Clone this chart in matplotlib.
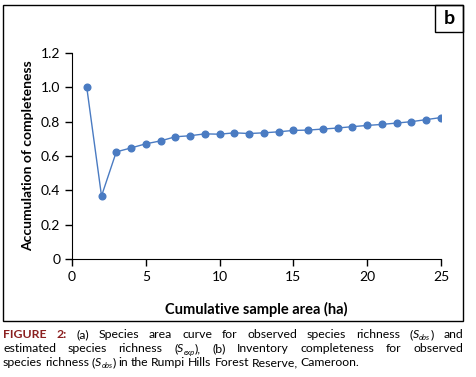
import matplotlib
matplotlib.use("Agg")
import matplotlib.pyplot as plt
from matplotlib.patches import Rectangle

plt.rcParams["font.family"] = ["Lato", "DejaVu Sans"]

# Sample area (ha) and inventory completeness
area = list(range(1, 26))
completeness = [1.000, 0.367, 0.624, 0.647, 0.671, 0.688, 0.712, 0.718, 0.729, 0.727,
                0.735, 0.731, 0.735, 0.741, 0.749, 0.751, 0.757, 0.763, 0.771, 0.778,
                0.784, 0.792, 0.800, 0.812, 0.824]

xticks = [0, 5, 10, 15, 20, 25]
yticks = [0, 0.2, 0.4, 0.6, 0.8, 1.0, 1.2]
yticklabels = ["0", "0.2", "0.4", "0.6", "0.8", "1.0", "1.2"]

blue = "#4a7bc2"
red = "#8b1f1f"

fig = plt.figure(figsize=(4.76, 3.77), dpi=100)
W, H = 476, 377

def fx(px):
    return px / W

def fy(py):
    return 1 - py / H

ax = fig.add_axes([fx(72), fy(259), fx(441) - fx(72), fy(53) - fy(259)])
ax.plot(area, completeness, color=blue, linewidth=1, marker="o", markersize=4.8)
ax.set_xlim(0, 25)
ax.set_ylim(0, 1.2)
ax.set_xticks(xticks)
ax.set_yticks(yticks)
ax.set_yticklabels(yticklabels)
ax.spines["top"].set_visible(False)
ax.spines["right"].set_visible(False)
ax.tick_params(length=5, width=1, labelsize=10, colors="black")
ax.set_xlabel("Cumulative sample area (ha)", fontsize=10.5, fontweight="bold", labelpad=14)
ax.set_ylabel("Accumulation of completeness", fontsize=10, fontweight="bold", labelpad=5)

# outer frame and panel tag
fig.patches.append(Rectangle((fx(3), fy(321)), fx(463) - fx(3), fy(5) - fy(321),
                             transform=fig.transFigure, fill=False, edgecolor="black", linewidth=1))
fig.patches.append(Rectangle((fx(435), fy(32)), fx(463) - fx(435), fy(5) - fy(32),
                             transform=fig.transFigure, fill=False, edgecolor="black", linewidth=1))
fig.text(fx(449), fy(19), "b", fontsize=14, fontweight="bold", ha="center", va="center")

# caption: each word is a list of (text, style) pieces
def plain(w):
    return [(w, "n")]

def sym(sub, tail=")"):
    return [("(", "n"), ("S", "i"), (sub, "s"), (tail, "n")]

line1 = [[("FIGURE", "b")], [("2:", "b")]] + [plain(w) for w in
         "(a) Species area curve for observed species richness".split()] + [sym("obs"), plain("and")]
line2 = [plain(w) for w in "estimated species richness".split()] + [sym("exp", "),")] + \
        [plain(w) for w in "(b) Inventory completeness for observed".split()]
line3 = [plain(w) for w in "species richness".split()] + [sym("obs")] + \
        [plain(w) for w in "in the Rumpi Hills Forest Reserve, Cameroon.".split()]

cap_size = 8.8
renderer = fig.canvas.get_renderer()

def make_word(pieces, ypx):
    texts = []
    for s, st in pieces:
        kw = dict(fontsize=cap_size, va="baseline", color="black")
        y = ypx
        if st == "b":
            kw.update(fontweight="bold", color=red)
        elif st == "i":
            kw.update(style="italic")
        elif st == "s":
            kw.update(style="italic", fontsize=cap_size * 0.62)
            y = ypx + 2.5
        texts.append((fig.text(0, fy(y), s, **kw), y))
    return texts

def place(word, x):
    for t, y in word:
        t.set_x(fx(x))
        x += t.get_window_extent(renderer).width
    return x

def width(word):
    return sum(t.get_window_extent(renderer).width for t, y in word)

def draw_line(words, ypx, justify=True):
    built = [make_word(p, ypx) for p in words]
    widths = [width(w) for w in built]
    gap = (463 - 3 - sum(widths)) / (len(built) - 1) if justify else 2.8
    x = 3
    for w, wd in zip(built, widths):
        place(w, x)
        x += wd + gap

draw_line(line1, 338)
draw_line(line2, 352)
draw_line(line3, 366, justify=False)

fig.savefig("out.png", dpi=100)
